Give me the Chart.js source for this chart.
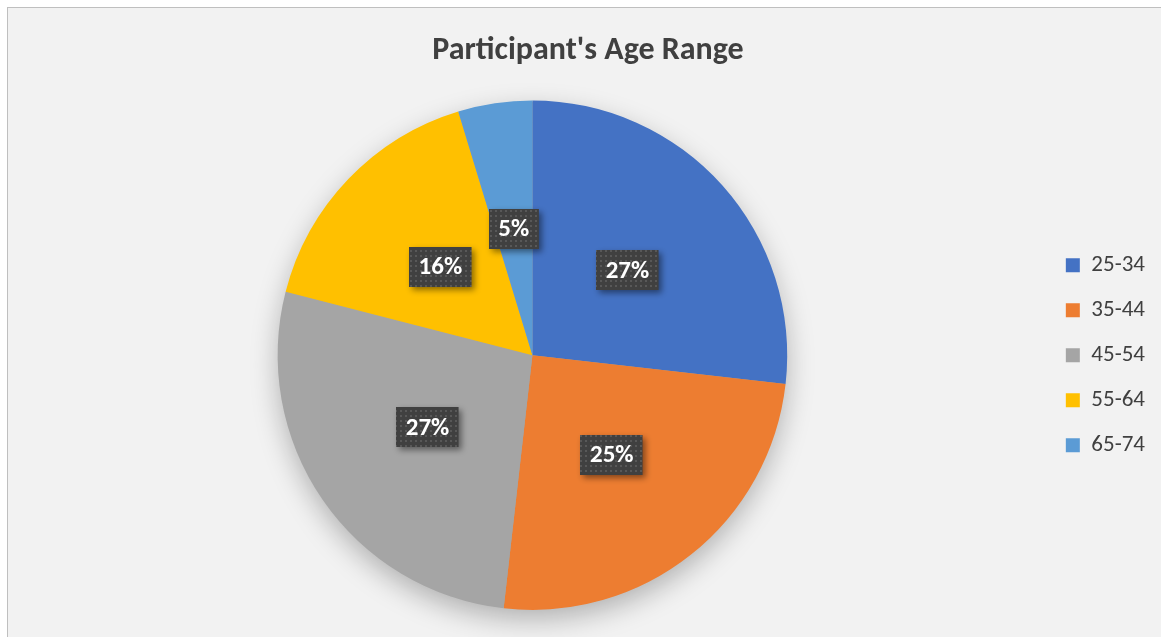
<!DOCTYPE html>
<html>
<head>
<meta charset="utf-8">
<script src="https://cdn.jsdelivr.net/npm/chart.js@4"></script>
<style>
  html, body { margin: 0; padding: 0; background: #ffffff; }
  #frame {
    position: absolute;
    left: 7px;
    top: 7px;
    width: 1153px;
    height: 630px;
    background: #f2f2f2;
    border-left: 1px solid #bfbfbf;
    border-top: 1px solid #bfbfbf;
  }
  canvas { display: block; }
</style>
</head>
<body>
<div id="frame">
  <canvas id="age-chart" width="1153" height="630"></canvas>
</div>
<script>
const ageRanges = ['25-34', '35-44', '45-54', '55-64', '65-74'];
const sharePct = [26.8, 25.0, 27.2, 16.3, 4.7];
const sliceColors = ['#4472c4', '#ed7d31', '#a5a5a5', '#ffc000', '#5b9bd5'];
const chartTitle = "Participant's Age Range";

const fontFamily = "Carlito, Calibri, 'Open Sans', sans-serif";

// dotted dark fill used behind the data labels
function makeDotPattern(ctx) {
  const tile = document.createElement('canvas');
  tile.width = 5;
  tile.height = 5;
  const t = tile.getContext('2d');
  t.fillStyle = '#404040';
  t.fillRect(0, 0, 5, 5);
  t.fillStyle = '#585858';
  t.fillRect(2, 2, 2, 2);
  return ctx.createPattern(tile, 'repeat');
}

const pieShadow = {
  id: 'pieShadow',
  beforeDatasetsDraw(chart) {
    const arc = chart.getDatasetMeta(0).data[0];
    if (!arc) return;
    const { x, y, outerRadius } = arc.getProps(['x', 'y', 'outerRadius'], true);
    const ctx = chart.ctx;
    ctx.save();
    ctx.shadowColor = 'rgba(0, 0, 0, 0.28)';
    ctx.shadowBlur = 28;
    ctx.shadowOffsetY = 10;
    ctx.fillStyle = '#a5a5a5';
    ctx.beginPath();
    ctx.arc(x, y, outerRadius - 1, 0, Math.PI * 2);
    ctx.fill();
    ctx.restore();
  }
};

const labelBoxes = {
  id: 'labelBoxes',
  afterDatasetsDraw(chart) {
    const ctx = chart.ctx;
    const pattern = makeDotPattern(ctx);
    const values = chart.data.datasets[0].data;
    chart.getDatasetMeta(0).data.forEach((arc, i) => {
      const pos = arc.tooltipPosition();
      const text = Math.round(values[i]) + '%';
      ctx.save();
      ctx.font = `bold 25px ${fontFamily}`;
      const w = ctx.measureText(text).width + 19;
      const h = 40;
      const bx = Math.round(pos.x - w / 2);
      const by = Math.round(pos.y - h / 2);

      ctx.shadowColor = 'rgba(0, 0, 0, 0.45)';
      ctx.shadowBlur = 6;
      ctx.shadowOffsetX = 3;
      ctx.shadowOffsetY = 3;
      ctx.fillStyle = pattern;
      ctx.fillRect(bx, by, w, h);

      ctx.shadowColor = 'transparent';
      ctx.fillStyle = '#ffffff';
      ctx.textAlign = 'center';
      ctx.textBaseline = 'middle';
      ctx.fillText(text, pos.x, pos.y + 1);
      ctx.restore();
    });
  }
};

new Chart(document.getElementById('age-chart'), {
  type: 'pie',
  data: {
    labels: ageRanges,
    datasets: [{
      data: sharePct,
      backgroundColor: sliceColors,
      borderWidth: 0,
    }],
  },
  options: {
    responsive: false,
    devicePixelRatio: 1,
    animation: false,
    layout: {
      padding: { left: 13, right: 6, top: 0, bottom: 28 },
    },
    plugins: {
      title: {
        display: true,
        text: chartTitle,
        color: '#404040',
        font: { family: fontFamily, size: 32, weight: 'bold' },
        padding: { top: 24, bottom: 30 },
      },
      legend: {
        position: 'right',
        fullSize: false,
        labels: {
          boxWidth: 14,
          boxHeight: 14,
          padding: 22,
          color: '#404040',
          font: { family: fontFamily, size: 23 },
        },
      },
      tooltip: { enabled: false },
    },
  },
  plugins: [pieShadow, labelBoxes],
});
</script>
</body>
</html>
